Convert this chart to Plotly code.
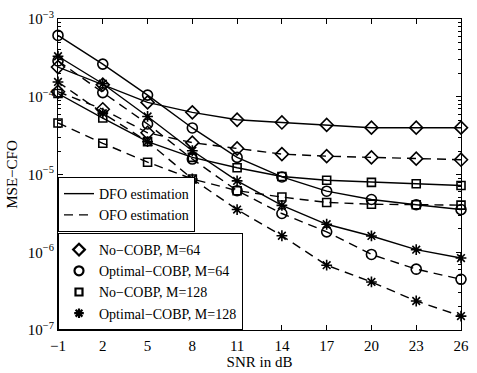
import plotly.graph_objects as go

snr = [-1, 2, 5, 8, 11, 14, 17, 20, 23, 26]

dfo_no_m64 = [2.41e-4, 1.43e-4, 8.46e-5, 6.3e-5, 5.06e-5, 4.67e-5, 4.34e-5, 4.0e-5, 4.0e-5, 4.0e-5]
ofo_no_m64 = [1.16e-4, 6.9e-5, 3.44e-5, 2.57e-5, 2.16e-5, 1.83e-5, 1.72e-5, 1.66e-5, 1.60e-5, 1.55e-5]
dfo_opt_m64 = [6.15e-4, 2.63e-4, 1.05e-4, 3.97e-5, 1.66e-5, 9.3e-6, 6.1e-6, 4.77e-6, 4.09e-6, 3.54e-6]
ofo_opt_m64 = [2.89e-4, 1.13e-4, 4.47e-5, 1.58e-5, 6.19e-6, 3.15e-6, 1.83e-6, 9.37e-7, 6.06e-7, 4.49e-7]
dfo_no_m128 = [1.10e-4, 5.32e-5, 2.65e-5, 1.66e-5, 1.22e-5, 9.44e-6, 8.45e-6, 7.93e-6, 7.59e-6, 7.22e-6]
ofo_no_m128 = [4.60e-5, 2.52e-5, 1.44e-5, 8.77e-6, 6.19e-6, 5.13e-6, 4.37e-6, 4.15e-6, 4.09e-6, 4.04e-6]
dfo_opt_m128 = [3.32e-4, 1.47e-4, 5.58e-5, 2.02e-5, 8.28e-6, 4.01e-6, 2.29e-6, 1.62e-6, 1.08e-6, 8.42e-7]
ofo_opt_m128 = [1.55e-4, 6.15e-5, 2.65e-5, 8.77e-6, 3.54e-6, 1.63e-6, 6.81e-7, 4.15e-7, 2.36e-7, 1.51e-7]

style_names = ["DFO estimation", "OFO estimation"]
config_names = ["No−COBP, M=64", "Optimal−COBP, M=64", "No−COBP, M=128", "Optimal−COBP, M=128"]

x_ticks = [-1, 2, 5, 8, 11, 14, 17, 20, 23, 26]
x_ticktext = ["−1", "2", "5", "8", "11", "14", "17", "20", "23", "26"]
y_tickvals = [1e-7, 1e-6, 1e-5, 1e-4, 1e-3]
y_ticktext = ["10<sup>−7</sup>", "10<sup>−6</sup>", "10<sup>−5</sup>", "10<sup>−4</sup>", "10<sup>−3</sup>"]

FONT = "Liberation Serif, Times New Roman, serif"
FS = 15
LFS = 14
DASH = "9px,6px"

symbols = ["diamond-open", "circle-open", "square-open", "asterisk-open"]
sizes = [10, 10, 8, 9]

series = [
    (dfo_no_m64, ofo_no_m64),
    (dfo_opt_m64, ofo_opt_m64),
    (dfo_no_m128, ofo_no_m128),
    (dfo_opt_m128, ofo_opt_m128),
]

fig = go.Figure()

for (dfo, ofo), sym, sz in zip(series, symbols, sizes):
    for vals, dash in ((dfo, "solid"), (ofo, DASH)):
        fig.add_trace(go.Scatter(
            x=snr, y=vals, mode="lines+markers",
            line=dict(color="black", width=1.4, dash=dash),
            marker=dict(symbol=sym, size=sz, color="black",
                        line=dict(color="black", width=1.6)),
            showlegend=False, cliponaxis=False,
        ))

# legend entries: line styles
for name, dash in zip(style_names, ["solid", DASH]):
    fig.add_trace(go.Scatter(
        x=[None], y=[None], mode="lines", name=name,
        line=dict(color="black", width=1.4, dash=dash),
        legend="legend",
    ))

# legend entries: markers
for name, sym, sz in zip(config_names, symbols, sizes):
    fig.add_trace(go.Scatter(
        x=[None], y=[None], mode="markers", name=name,
        marker=dict(symbol=sym, size=sz - 1, color="black",
                    line=dict(color="black", width=2.2)),
        legend="legend2",
    ))

fig.update_layout(
    width=477, height=373,
    margin=dict(l=58, r=8, t=19, b=37),
    paper_bgcolor="white", plot_bgcolor="white",
    font=dict(family=FONT, size=FS, color="black"),
    legend=dict(x=0, y=0.315, xanchor="left", yanchor="bottom",
                bgcolor="white", bordercolor="black", borderwidth=1,
                font=dict(family=FONT, size=LFS), tracegroupgap=0),
    legend2=dict(x=0, y=0, xanchor="left", yanchor="bottom",
                 bgcolor="white", bordercolor="black", borderwidth=1,
                 font=dict(family=FONT, size=LFS), tracegroupgap=0),
)

fig.update_xaxes(
    range=[-1, 26], tickvals=x_ticks, ticktext=x_ticktext,
    ticks="inside", ticklen=5, tickcolor="black",
    showline=True, linecolor="black", linewidth=1, mirror="ticks",
    showgrid=False, zeroline=False, ticklabelstandoff=2,
    title=dict(text="SNR in dB", standoff=0, font=dict(family=FONT, size=FS)),
    tickfont=dict(family=FONT, size=FS),
)
fig.update_yaxes(
    type="log", range=[-7, -3], tickvals=y_tickvals, ticktext=y_ticktext,
    ticks="inside", ticklen=5, tickcolor="black",
    minor=dict(ticks="inside", ticklen=3, tickcolor="black", dtick="D1", showgrid=False),
    showline=True, linecolor="black", linewidth=1, mirror="ticks",
    showgrid=False, zeroline=False,
    title=dict(text="MSE−CFO", standoff=6, font=dict(family=FONT, size=FS)),
    tickfont=dict(family=FONT, size=FS),
)

fig.write_html("out.html")
